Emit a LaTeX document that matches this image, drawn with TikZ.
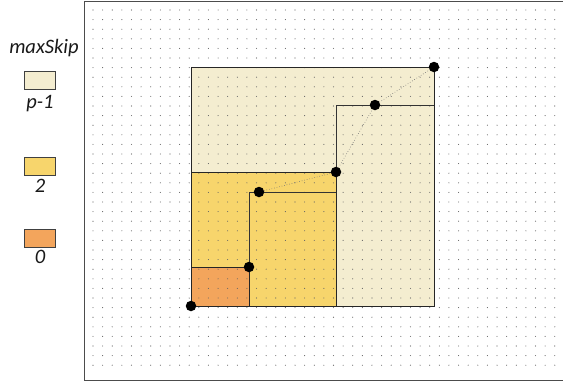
\documentclass[tikz,border=0pt]{standalone}
\usepackage{fontspec}
\setmainfont{Carlito}
\usetikzlibrary{positioning}
\definecolor{skippale}{RGB}{244,237,208}
\definecolor{skipyellow}{RGB}{247,213,108}
\definecolor{skiporange}{RGB}{243,165,92}
\definecolor{griddot}{RGB}{100,100,100}

\tikzset{
  legendbox/.style={draw=black!75, line width=0.8pt, minimum width=31pt, minimum height=18pt, inner sep=0pt},
  legendlabel/.style={font=\fontsize{20.5}{24}\selectfont\itshape, text=black!90, inner sep=0pt},
  blockline/.style={draw=black!85, line width=0.95pt},
  stepline/.style={draw=black!80, line width=0.65pt},
  trail/.style={dotted, black!55, line width=0.6pt},
  corner/.style={fill=black, circle, inner sep=0pt, minimum size=10.5pt},
}

\begin{document}
\begin{tikzpicture}[x=1pt, y=-1pt]
    \useasboundingbox (0,0) rectangle (563,383);
    \fill[white] (0,0) rectangle (563,383);
    % corners of the skip blocks
    \coordinate (o)  at (191,306);
    \coordinate (c1) at (249,267);
    \coordinate (c2) at (259,192);
    \coordinate (c3) at (336,172);
    \coordinate (c5) at (375,105);
    \coordinate (c6) at (434,67);
    % blocks
    \fill[skippale]   (o) rectangle (c6);
    \fill[skipyellow] (o) rectangle (c3);
    \fill[skiporange] (o) rectangle (c1);
    % dotted paper
    \foreach \i in {0,...,48} {
      \foreach \j in {0,...,37} {
        \fill[griddot] (93+9.62*\i, 10+9.6*\j) circle (0.55pt);
      }
    }
    % frame
    \draw[black!70, line width=0.9pt] (563,1) -- (84,1) -- (84,380) -- (563,380);
    % block borders and steps
    \draw[blockline] (o) rectangle (c6);
    \draw[blockline] (o) rectangle (c3);
    \draw[blockline] (o) rectangle (c1);
    \draw[stepline] (c3) |- (c5 -| c6);
    \draw[stepline] (c1) |- (c2 -| c3);
    \draw[trail] (c2) -- (c3);
    \draw[trail] (c3) -- (c5);
    \draw[trail] (c5) -- (c6);
    \foreach \c in {o,c1,c2,c3,c5,c6} {
      \node[corner] (dot-\c) at (\c) {};
    }
    % legend
    \node[legendlabel] (title) at (44,48) {maxSkip};
    \node[legendbox, fill=skippale] (keypale) at (39.5,80) {};
    \node[legendlabel] (labpale) at (40,104) {p-1};
    \node[legendbox, fill=skipyellow] (keyyellow) at (39.5,166) {};
    \node[legendlabel] (labyellow) at (40,186) {2};
    \node[legendbox, fill=skiporange] (keyorange) at (39.5,238) {};
    \node[legendlabel] (laborange) at (40,257) {0};
\end{tikzpicture}
\end{document}
